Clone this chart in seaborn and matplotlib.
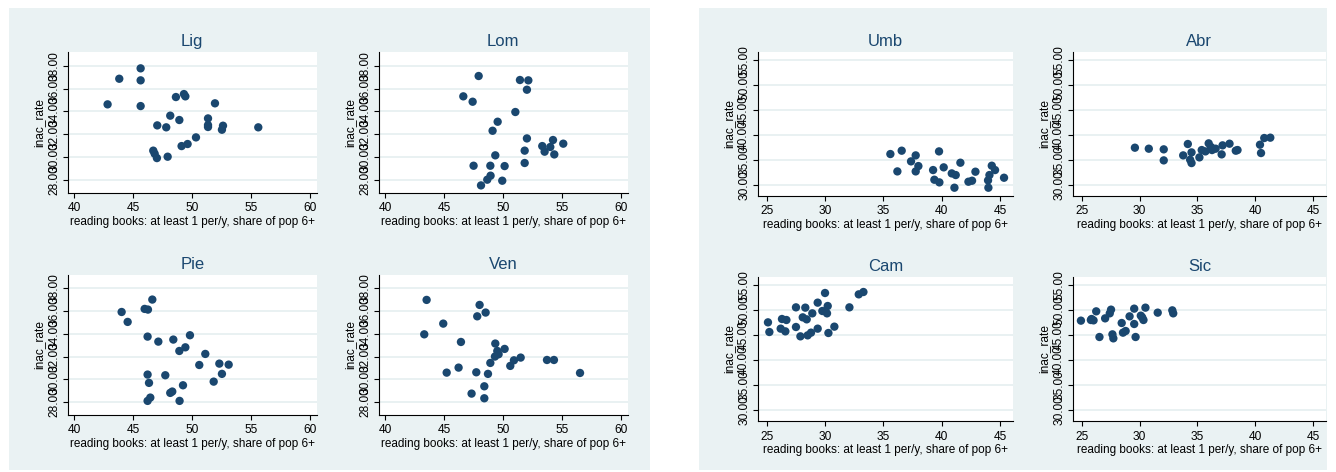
import matplotlib
matplotlib.use("Agg")
import matplotlib.pyplot as plt
import seaborn as sns
import pandas as pd
from matplotlib.patches import Rectangle

# ---------------- data ----------------
lig_x = [42.85, 43.84, 45.65, 45.65, 45.65, 48.64, 49.32, 49.44, 51.95, 48.16, 48.93, 47.06, 47.82,
         51.36, 51.36, 51.36, 52.63, 52.54, 55.62, 50.34, 49.63, 49.12, 46.72, 46.84, 47.03, 47.94]
lig_y = [34.62, 36.86, 37.77, 36.72, 34.47, 35.26, 35.52, 35.32, 34.71, 33.63, 33.25, 32.78, 32.61,
         33.39, 32.81, 32.64, 32.75, 32.40, 32.61, 31.73, 31.15, 30.97, 30.57, 30.30, 29.92, 30.04]

lom_x = [47.94, 51.44, 52.15, 52.03, 46.64, 47.43, 51.05, 49.55, 49.12, 52.03, 54.24, 55.11, 53.33,
         54.01, 53.53, 54.35, 51.84, 49.35, 51.84, 47.51, 48.93, 50.14, 48.95, 48.67, 49.94, 48.14]
lom_y = [37.10, 36.75, 36.72, 35.90, 35.32, 34.85, 33.95, 33.10, 32.31, 31.64, 31.50, 31.18, 30.97,
         30.89, 30.48, 30.24, 30.57, 30.16, 29.49, 29.25, 29.25, 29.22, 28.38, 28.03, 27.94, 27.53]

pie_x = [46.64, 44.04, 45.99, 46.27, 44.55, 46.24, 47.15, 48.42, 49.83, 49.44, 48.93, 51.13, 50.62,
         52.32, 53.11, 52.54, 51.84, 46.24, 47.74, 46.36, 49.24, 48.16, 48.33, 46.47, 46.24, 48.95]
pie_y = [37.01, 35.92, 36.19, 36.13, 35.05, 33.76, 33.32, 33.50, 33.88, 32.82, 32.50, 32.24, 31.27,
         31.39, 31.30, 30.49, 29.81, 30.43, 30.37, 29.70, 29.49, 28.82, 28.94, 28.41, 28.12, 28.12]

ven_x = [43.53, 48.02, 48.53, 47.82, 44.94, 43.33, 46.44, 49.35, 50.14, 49.52, 49.63, 49.32, 51.50,
         50.93, 53.73, 54.32, 48.93, 50.62, 46.24, 45.23, 47.74, 48.73, 56.53, 48.42, 47.34, 48.42]
ven_y = [36.98, 36.54, 35.87, 35.54, 34.90, 33.96, 33.29, 33.15, 32.68, 32.50, 32.21, 32.01, 31.92,
         31.68, 31.71, 31.71, 31.45, 31.19, 31.04, 30.60, 30.63, 30.49, 30.57, 29.40, 28.76, 28.35]

umb_x = [35.60, 36.57, 37.77, 39.77, 37.37, 38.00, 36.20, 37.77, 41.60, 40.17, 39.26, 40.86, 41.20,
         42.89, 44.29, 44.57, 44.09, 45.34, 39.37, 39.80, 42.60, 42.29, 43.97, 41.09, 44.00]
umb_y = [36.15, 36.82, 35.88, 36.68, 34.68, 33.74, 32.67, 32.67, 34.41, 33.48, 32.94, 32.27, 31.94,
         32.61, 33.81, 32.94, 31.94, 31.40, 31.00, 30.47, 30.80, 30.60, 30.87, 29.40, 29.40]

abr_x = [29.60, 30.80, 32.09, 32.09, 34.17, 33.77, 34.49, 34.37, 34.49, 35.17, 35.37, 35.69, 35.97,
         36.17, 36.57, 37.17, 37.09, 37.77, 38.31, 38.46, 40.40, 40.49, 40.77, 41.29, 36.26]
abr_y = [37.42, 37.22, 37.09, 34.88, 38.16, 35.88, 36.48, 35.01, 34.34, 35.48, 36.95, 36.68, 38.29,
         37.55, 37.22, 37.89, 36.08, 38.22, 36.82, 36.95, 38.02, 36.35, 39.36, 39.43, 36.95]

cam_x = [25.11, 25.23, 26.31, 26.69, 26.20, 26.60, 27.51, 27.51, 27.89, 28.31, 28.09, 28.43, 28.91,
         28.51, 28.80, 29.37, 29.37, 29.77, 30.00, 30.23, 30.17, 30.29, 30.80, 32.09, 32.89, 33.29]
cam_y = [47.53, 45.60, 48.20, 48.00, 46.27, 45.73, 50.53, 46.60, 44.73, 50.47, 48.53, 48.13, 49.33,
         44.93, 45.47, 51.47, 46.27, 49.80, 53.40, 50.80, 49.33, 45.40, 46.67, 50.53, 53.13, 53.60]

sic_x = [24.94, 25.86, 26.03, 26.26, 26.54, 27.03, 27.43, 27.54, 27.66, 27.74, 28.46, 28.57, 28.80,
         29.14, 29.54, 29.54, 29.66, 30.11, 30.34, 30.51, 31.57, 32.83, 32.91, 30.23, 25.80]
sic_y = [47.87, 48.20, 47.93, 49.73, 44.60, 48.33, 49.33, 50.07, 45.13, 44.33, 47.40, 45.47, 45.80,
         48.73, 50.27, 47.20, 44.60, 48.87, 48.00, 50.47, 49.47, 49.93, 49.33, 48.53, 48.00]

north_xticks = [40, 45, 50, 55, 60]
north_yticks = [28, 30, 32, 34, 36, 38]
south_xticks = [25, 30, 35, 40, 45]
south_yticks = [30, 35, 40, 45, 50, 55]

x_label = "reading books: at least 1 per/y, share of pop 6+"
y_label = "inac_rate"

# ---------------- style ----------------
sns.set_style("white")
plt.rcParams['font.family'] = ['Liberation Sans', 'DejaVu Sans']

W, H = 1336, 472
fig = plt.figure(figsize=(W / 100, H / 100), dpi=100)
fig.patch.set_facecolor('white')

BG = '#EAF2F3'
NAVY = '#1A476F'


def px_box(l, t, r, b):
    return [l / W, 1 - b / H, (r - l) / W, (b - t) / H]


for (l, t, r, b) in [(9, 8, 650, 470), (699, 8, 1327, 470)]:
    fig.patches.append(Rectangle((l / W, 1 - b / H), (r - l) / W, (b - t) / H,
                                 transform=fig.transFigure, facecolor=BG,
                                 edgecolor='none', zorder=-10))


def draw(name, xs, ys, box, xlim, ylim, xticks, yticks):
    ax = fig.add_axes(px_box(*box))
    ax.set_zorder(1)
    ax.set_facecolor('white')
    df = pd.DataFrame({'x': xs, 'y': ys})
    sns.scatterplot(data=df, x='x', y='y', ax=ax, color=NAVY, s=36,
                    edgecolor='none', linewidth=0, zorder=3)
    ax.set_xlim(xlim)
    ax.set_ylim(ylim)
    ax.set_xticks(xticks)
    ax.set_xticklabels([str(v) for v in xticks])
    ax.set_yticks(yticks)
    ax.set_yticklabels([f"{v:.2f}" for v in yticks], rotation=90, va='center')
    ax.grid(axis='y', color='#E3EDEF', lw=1.1)
    ax.grid(axis='x', visible=False)
    ax.set_axisbelow(True)
    for s in ['top', 'right']:
        ax.spines[s].set_visible(False)
    for s in ['left', 'bottom']:
        ax.spines[s].set_color('black')
        ax.spines[s].set_linewidth(0.8)
    ax.tick_params(axis='both', direction='out', length=3.4, width=0.8,
                   color='black', labelsize=8.6, left=True, bottom=True,
                   labelcolor='black')
    ax.tick_params(axis='x', pad=3.5)
    ax.tick_params(axis='y', pad=2)
    ax.set_title(name, fontsize=12, color=NAVY, pad=4)
    ax.set_xlabel(x_label, fontsize=8.5, labelpad=1, color='black')
    ax.set_ylabel(y_label, fontsize=8.6, labelpad=2, color='black')
    return ax


nxl = (39.47, 60.57)
nyl = (26.9, 39.2)
sxl = (24.23, 46.1)
syl = (27.8, 56.7)

draw("Lig", lig_x, lig_y, (67.7, 52.0, 316.7, 192.6), nxl, nyl, north_xticks, north_yticks)
draw("Lom", lom_x, lom_y, (378.7, 52.0, 627.7, 192.6), nxl, nyl, north_xticks, north_yticks)
draw("Pie", pie_x, pie_y, (67.7, 274.6, 316.7, 414.8), nxl, nyl, north_xticks, north_yticks)
draw("Ven", ven_x, ven_y, (378.7, 274.6, 627.7, 414.8), nxl, nyl, north_xticks, north_yticks)

draw("Umb", umb_x, umb_y, (757.7, 51.5, 1012.9, 195.7), sxl, syl, south_xticks, south_yticks)
draw("Abr", abr_x, abr_y, (1072.7, 51.5, 1326.0, 195.7), sxl, syl, south_xticks, south_yticks)
draw("Cam", cam_x, cam_y, (757.7, 276.5, 1012.9, 421.0), sxl, syl, south_xticks, south_yticks)
draw("Sic", sic_x, sic_y, (1072.7, 276.5, 1326.0, 421.0), sxl, syl, south_xticks, south_yticks)

fig.savefig("out.png", dpi=100, facecolor='white')
